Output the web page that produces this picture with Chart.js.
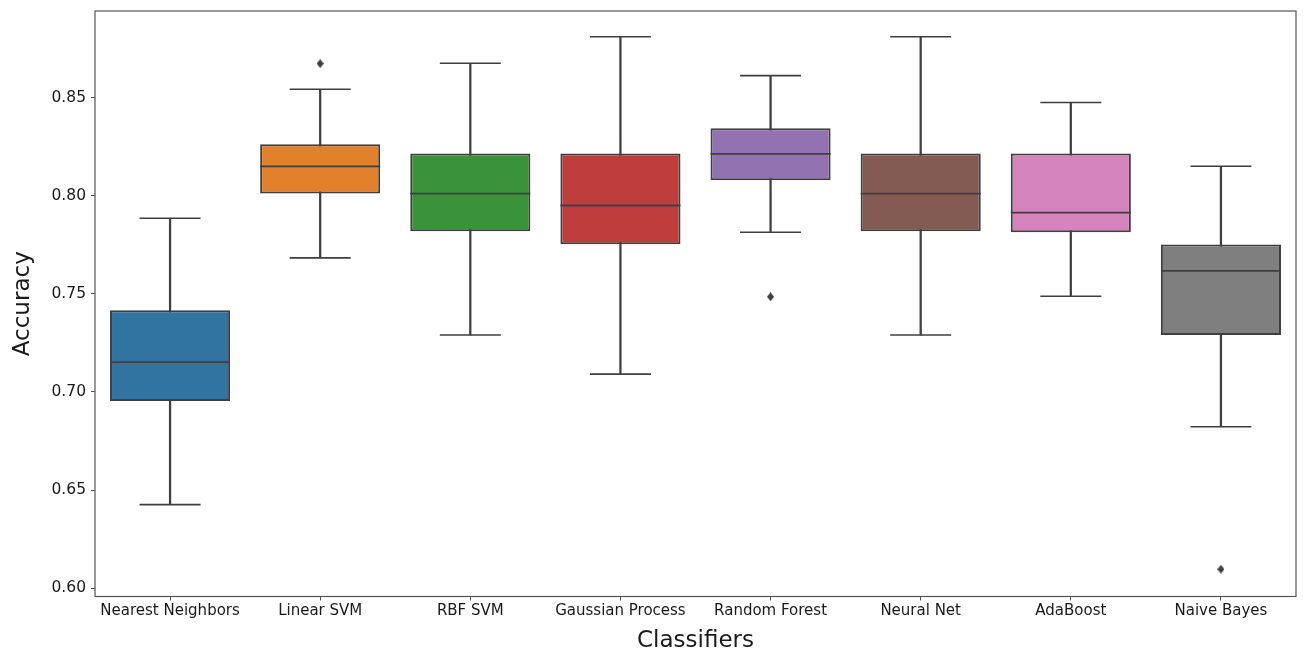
<!DOCTYPE html>
<html>
<head>
<meta charset="utf-8">
<script src="https://cdn.jsdelivr.net/npm/chart.js@4.4.0/dist/chart.umd.min.js"></script>
<style>
  body { margin: 0; background: #fff; }
  canvas { display: block; }
</style>
</head>
<body>
<canvas id="myChart" width="1306" height="654"></canvas>
<script>
// classifiers and box statistics (accuracy)
const classifiers = ['Nearest Neighbors', 'Linear SVM', 'RBF SVM', 'Gaussian Process', 'Random Forest', 'Neural Net', 'AdaBoost', 'Naive Bayes'];
const whiskerLow = [0.6426, 0.7683, 0.7290, 0.7091, 0.7814, 0.7290, 0.7488, 0.6823];
const quartile1  = [0.6954, 0.8011, 0.7819, 0.7753, 0.8079, 0.7819, 0.7814, 0.7290];
const medians    = [0.7152, 0.8149, 0.8011, 0.7950, 0.8213, 0.8011, 0.7914, 0.7617];
const quartile3  = [0.7417, 0.8262, 0.8215, 0.8215, 0.8344, 0.8215, 0.8215, 0.7752];
const whiskerHigh = [0.7885, 0.8542, 0.8675, 0.8810, 0.8612, 0.8810, 0.8475, 0.8150];
const outliers   = [null, 0.8673, null, null, 0.7485, null, null, 0.6097];
const yTicks = [0.60, 0.65, 0.70, 0.75, 0.80, 0.85];
const yMin = 0.5958, yMax = 0.8941;

const boxColors = ['#3274a1', '#e1812c', '#3a923a', '#c03d3e', '#9372b2', '#845b53', '#d684bd', '#7f7f7f'];
const lineColor = '#3f3f3f';
const fontFamily = '"DejaVu Sans", sans-serif';

// thin diamond marker like matplotlib 'd'
function thinDiamond() {
    const c = document.createElement('canvas');
    c.width = 7; c.height = 9;
    const g = c.getContext('2d');
    g.fillStyle = lineColor;
    g.beginPath();
    g.moveTo(3.5, 0); g.lineTo(7, 4.5); g.lineTo(3.5, 9); g.lineTo(0, 4.5);
    g.closePath();
    g.fill();
    return c;
}

// frame round the plot area
const framePlugin = {
    id: 'frame',
    afterDraw(chart) {
        const {ctx, chartArea: a} = chart;
        ctx.save();
        ctx.strokeStyle = '#555';
        ctx.lineWidth = 1.2;
        ctx.strokeRect(a.left, a.top, a.right - a.left, a.bottom - a.top);
        ctx.restore();
    }
};

const chartData = {
    data: {
        labels: classifiers,
        datasets: [
            {
                type: 'bar',
                label: 'box',
                data: classifiers.map((c, i) => [quartile1[i], quartile3[i]]),
                backgroundColor: boxColors,
                borderColor: lineColor,
                borderWidth: 2,
                borderSkipped: false,
                barPercentage: 0.8,
                categoryPercentage: 1.0,
                grouped: false,
                order: 1
            },
            {
                type: 'bar',
                label: 'whisker',
                data: classifiers.map((c, i) => [whiskerLow[i], whiskerHigh[i]]),
                backgroundColor: lineColor,
                borderWidth: 0,
                barThickness: 1.6,
                grouped: false,
                order: 2
            },
            {
                type: 'line',
                label: 'capLow',
                data: whiskerLow,
                showLine: false,
                pointStyle: 'line',
                pointRadius: 30.5,
                pointBorderWidth: 1.6,
                pointBorderColor: lineColor,
                order: 0
            },
            {
                type: 'line',
                label: 'capHigh',
                data: whiskerHigh,
                showLine: false,
                pointStyle: 'line',
                pointRadius: 30.5,
                pointBorderWidth: 1.6,
                pointBorderColor: lineColor,
                order: 0
            },
            {
                type: 'line',
                label: 'median',
                data: medians,
                showLine: false,
                pointStyle: 'line',
                pointRadius: 60,
                pointBorderWidth: 1.8,
                pointBorderColor: lineColor,
                order: 0
            },
            {
                type: 'line',
                label: 'outliers',
                data: outliers,
                showLine: false,
                pointStyle: thinDiamond(),
                pointRadius: 4,
                order: 0
            }
        ]
    },
    options: {
        responsive: false,
        animation: false,
        events: [],
        layout: { autoPadding: false, padding: { left: 0, top: 11, right: 10, bottom: 0 } },
        plugins: {
            legend: { display: false },
            tooltip: { enabled: false }
        },
        scales: {
            x: {
                offset: true,
                grid: { drawOnChartArea: false, drawTicks: true, tickLength: 4, color: '#555', offset: false },
                border: { display: false },
                ticks: { color: '#1a1a1a', font: { family: fontFamily, size: 15 }, padding: 2, maxRotation: 0, autoSkip: false },
                title: {
                    display: true,
                    text: 'Classifiers',
                    color: '#1a1a1a',
                    font: { family: fontFamily, size: 23, lineHeight: 1 },
                    padding: { top: 0, bottom: 1 }
                },
                afterFit(scale) {
                    scale.height = 57.5;
                    scale.paddingLeft = 0;
                    scale.paddingRight = 0;
                }
            },
            y: {
                min: yMin,
                max: yMax,
                grid: { drawOnChartArea: false, drawTicks: true, tickLength: 4, color: '#555' },
                border: { display: false },
                ticks: {
                    color: '#1a1a1a',
                    font: { family: fontFamily, size: 15.5 },
                    padding: 5,
                    callback: v => v.toFixed(2)
                },
                afterBuildTicks(scale) { scale.ticks = yTicks.map(v => ({ value: v })); },
                title: {
                    display: true,
                    text: 'Accuracy',
                    color: '#1a1a1a',
                    font: { family: fontFamily, size: 23, lineHeight: 1 },
                    padding: { top: 12, bottom: 0 }
                },
                afterFit(scale) {
                    scale.width = 95;
                    scale.paddingTop = 0;
                    scale.paddingBottom = 0;
                }
            }
        }
    },
    plugins: [framePlugin]
};

const chart = new Chart(document.getElementById('myChart'), chartData);
</script>
</body>
</html>
